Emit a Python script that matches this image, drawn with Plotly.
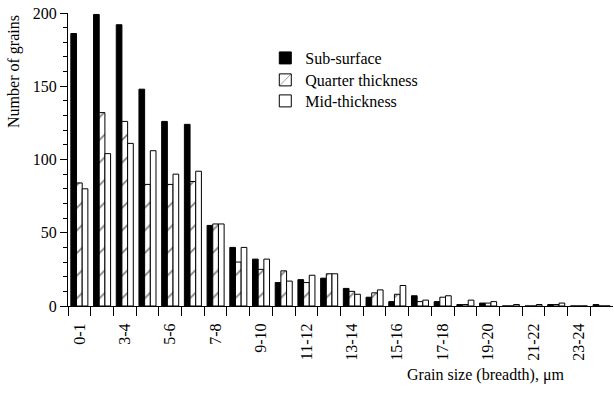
import plotly.graph_objects as go

categories = ["0-1", "2-3", "3-4", "4-5", "5-6", "6-7", "7-8", "8-9", "9-10", "10-11",
              "11-12", "12-13", "13-14", "14-15", "15-16", "16-17", "17-18", "18-19",
              "19-20", "20-21", "21-22", "22-23", "23-24", "24-25"]
sub_surface = [186, 199, 192, 148, 126, 124, 55, 40, 32, 16, 18, 19, 12, 6, 3, 7, 3, 1, 2, 0, 0, 1, 0, 1]
quarter_thickness = [84, 132, 126, 83, 83, 85, 56, 30, 25, 24, 16, 22, 10, 9, 8, 3, 6, 1, 2, 0, 0, 1, 0, 0]
mid_thickness = [80, 104, 111, 106, 90, 92, 56, 40, 32, 17, 21, 22, 8, 11, 14, 4, 7, 4, 3, 1, 1, 2, 0, 0]

x = list(range(len(categories)))
shown = x[::2]

FONT = "Times New Roman, Liberation Serif, serif"

fig = go.Figure()
fig.add_bar(x=x, y=sub_surface, name="Sub-surface", legend="legend",
            marker=dict(color="black", line=dict(color="black", width=1)))
fig.add_bar(x=x, y=quarter_thickness, name="Quarter thickness", legend="legend2",
            marker=dict(color="white", line=dict(color="black", width=1),
                        pattern=dict(shape="/", fgcolor="black", bgcolor="white",
                                     size=16, solidity=0.1)))
fig.add_bar(x=x, y=mid_thickness, name="Mid-thickness", legend="legend3",
            marker=dict(color="white", line=dict(color="black", width=1)))

leg_common = dict(xanchor="left", yanchor="top", bgcolor="rgba(0,0,0,0)",
                  font=dict(family=FONT, size=16, color="black"))

fig.update_layout(
    width=614, height=394,
    margin=dict(l=68, r=1, t=13, b=88),
    barmode="group", bargap=0.25, bargroupgap=0,
    plot_bgcolor="white", paper_bgcolor="white",
    font=dict(family=FONT, size=16, color="black"),
    showlegend=True,
    legend=dict(x=0.362, y=0.9044, **leg_common),
    legend2=dict(x=0.362, y=0.8294, **leg_common),
    legend3=dict(x=0.362, y=0.7577, **leg_common),
    annotations=[
        dict(text="Grain size (breadth), \u03bcm", xref="paper", yref="paper",
             x=0.9156, y=-0.235, xanchor="right", yanchor="middle",
             showarrow=False, font=dict(family=FONT, size=16)),
        dict(text="Number of grains", xref="paper", yref="paper",
             x=-0.099, y=0.799, xanchor="center", yanchor="middle",
             textangle=-90, showarrow=False, font=dict(family=FONT, size=16)),
    ],
)

fig.update_xaxes(
    type="linear", range=[-0.5, len(categories) - 0.5],
    tickmode="array", tickvals=shown, ticktext=[categories[i] for i in shown],
    tickangle=-90, ticks="outside", ticklen=10, tickcolor="rgba(0,0,0,0)",
    showline=True, linecolor="black", linewidth=1,
    showgrid=False, zeroline=False,
    tickfont=dict(family=FONT, size=16),
    minor=dict(tickmode="array", tickvals=[i - 0.5 for i in x],
               ticks="outside", ticklen=9, tickcolor="black", tickwidth=1, showgrid=False),
)
fig.update_yaxes(
    range=[0, 200], tickmode="array", tickvals=[0, 50, 100, 150, 200],
    ticks="outside", ticklen=7, tickcolor="black", tickwidth=1,
    showline=True, linecolor="black", linewidth=1,
    showgrid=False, zeroline=False,
    tickfont=dict(family=FONT, size=16),
    minor=dict(dtick=10, tick0=0, ticks="outside", ticklen=4, tickcolor="black", showgrid=False),
)

fig.write_html("out.html")
